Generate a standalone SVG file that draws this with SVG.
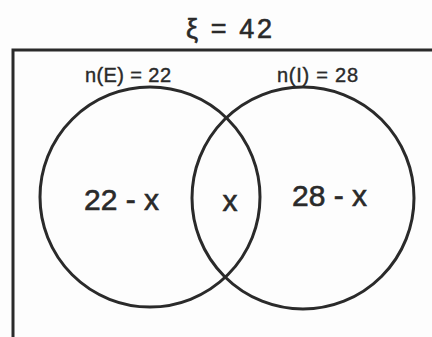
<svg xmlns="http://www.w3.org/2000/svg" width="432" height="337" viewBox="0 0 432 337">
<style>
text{font-family:"Liberation Sans",Arial,sans-serif;fill:#2a2a2a;stroke:#2a2a2a;stroke-width:0.6}
.set{fill:none;stroke:#2a2a2a;stroke-width:3}
.lbl{font-size:20px;stroke-width:0.4}
.big{font-size:30px}
</style>
<rect width="432" height="337" fill="#fdfdfd"/>
<g id="universe">
<rect x="13" y="50" width="440" height="320" fill="none" stroke="#2a2a2a" stroke-width="3"/>
<text x="186" y="38" font-size="27" textLength="86" lengthAdjust="spacing">ξ = 42</text>
</g>
<g id="setE">
<circle class="set" cx="150" cy="197" r="110"/>
<text class="lbl" x="85" y="82" textLength="86" lengthAdjust="spacing">n(E) = 22</text>
<text class="big" x="84" y="210">22 - x</text>
</g>
<g id="setI">
<circle class="set" cx="303" cy="198" r="111"/>
<text class="lbl" x="277" y="82" textLength="81" lengthAdjust="spacing">n(I) = 28</text>
<text class="big" x="292" y="206">28 - x</text>
</g>
<g id="intersection">
<text class="big" x="230" y="211" text-anchor="middle">x</text>
</g>
</svg>
